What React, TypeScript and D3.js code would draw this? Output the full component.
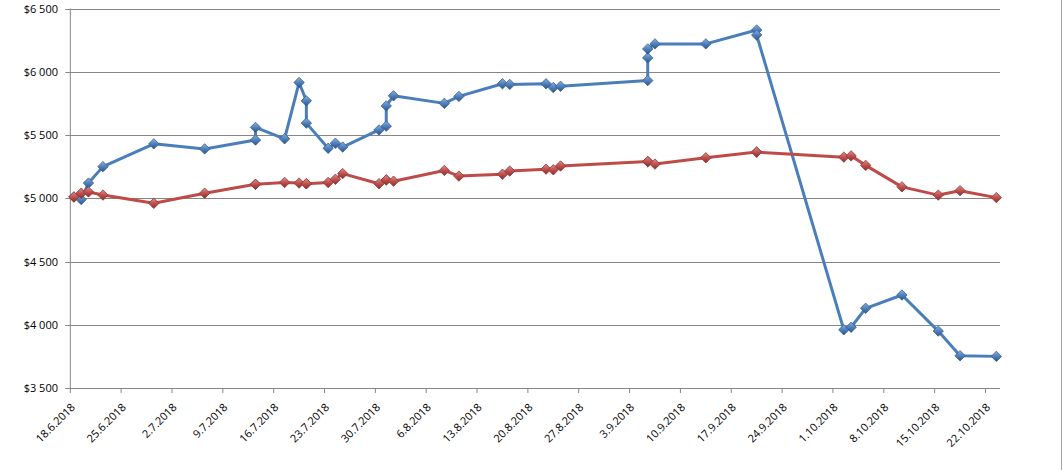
import { useMemo } from 'react'
import * as d3 from 'd3'

// one entry per transaction, both series share the dates
const dates = [
  '18.6.2018', '19.6.2018', '20.6.2018', '22.6.2018', '29.6.2018', '6.7.2018',
  '13.7.2018', '13.7.2018', '17.7.2018', '19.7.2018', '20.7.2018', '20.7.2018',
  '23.7.2018', '24.7.2018', '25.7.2018', '30.7.2018', '31.7.2018', '31.7.2018',
  '1.8.2018', '8.8.2018', '10.8.2018', '16.8.2018', '17.8.2018', '22.8.2018',
  '23.8.2018', '24.8.2018', '5.9.2018', '5.9.2018', '5.9.2018', '6.9.2018',
  '13.9.2018', '20.9.2018', '20.9.2018', '2.10.2018', '3.10.2018', '5.10.2018',
  '10.10.2018', '15.10.2018', '18.10.2018', '23.10.2018',
]

const blueValues = [
  5010, 4990, 5120, 5250, 5430, 5390,
  5460, 5560, 5470, 5915, 5770, 5594,
  5395, 5435, 5405, 5540, 5570, 5730,
  5810, 5750, 5805, 5905, 5900, 5905,
  5875, 5885, 5930, 6110, 6180, 6220,
  6220, 6330, 6290, 3960, 3980, 4130,
  4235, 3950, 3755, 3750,
]

const redValues = [
  5010, 5040, 5050, 5025, 4960, 5040,
  5110, 5110, 5125, 5120, 5115, 5115,
  5125, 5150, 5195, 5115, 5145, 5145,
  5135, 5220, 5175, 5190, 5215, 5230,
  5225, 5255, 5290, 5290, 5290, 5270,
  5320, 5365, 5365, 5325, 5335, 5260,
  5090, 5025, 5060, 5005,
]

const xTickLabels = [
  '18.6.2018', '25.6.2018', '2.7.2018', '9.7.2018', '16.7.2018', '23.7.2018',
  '30.7.2018', '6.8.2018', '13.8.2018', '20.8.2018', '27.8.2018', '3.9.2018',
  '10.9.2018', '17.9.2018', '24.9.2018', '1.10.2018', '8.10.2018', '15.10.2018',
  '22.10.2018',
]

const yTicks = [3500, 4000, 4500, 5000, 5500, 6000, 6500]

const axisStart = '18.6.2018'
const axisEnd = '24.10.2018'

const W = 1063
const H = 470
const plot = { left: 70.3, right: 1000, top: 8.5, bottom: 388 }

const parse = d3.utcParse('%d.%m.%Y')
const DAY = 24 * 3600 * 1000

const fmtMoney = (v: number) => '$' + d3.format(',')(v).replace(',', ' ')

const series = [
  { name: 'blue', values: blueValues, line: '#4A7EBB', light: '#8DB0DF', mid: '#4F81BD', dark: '#2C5485', edge: '#385D8A' },
  { name: 'red', values: redValues, line: '#BE4B48', light: '#DE8F8C', mid: '#C0504D', dark: '#8A2F2C', edge: '#8C3836' },
]

const diamond = 'M0,-5.2L5.2,0L0,5.2L-5.2,0Z'

export default function App() {
  const x = useMemo(
    () => d3.scaleUtc().domain([parse(axisStart)!, parse(axisEnd)!]).range([plot.left, plot.right]),
    []
  )
  const y = useMemo(
    () => d3.scaleLinear().domain([3500, 6500]).range([plot.bottom, plot.top]),
    []
  )

  // points sit in the middle of their day band
  const px = (s: string) => x(new Date(parse(s)!.getTime() + DAY / 2))

  const line = d3.line<number>()
    .x((_, i) => px(dates[i]))
    .y(d => y(d))

  const font = '"Open Sans", "DejaVu Sans", sans-serif'

  return (
    <svg width={W} height={H} style={{ position: 'absolute', left: 0, top: 0, background: '#fff' }}>
      <defs>
        {series.map(s => (
          <linearGradient key={s.name} id={`grad-${s.name}`} x1="0" y1="0" x2="0" y2="1">
            <stop offset="0%" stopColor={s.light} />
            <stop offset="50%" stopColor={s.mid} />
            <stop offset="100%" stopColor={s.dark} />
          </linearGradient>
        ))}
      </defs>

      {/* chart border (only right edge visible) */}
      <line x1={W - 1.5} x2={W - 1.5} y1={0} y2={H} stroke="#a6a6a6" />

      {/* gridlines */}
      {yTicks.map(t => (
        <line key={t} x1={plot.left} x2={plot.right} y1={Math.round(y(t)) + 0.5} y2={Math.round(y(t)) + 0.5}
          stroke="#868686" strokeWidth={1} />
      ))}

      {/* y axis */}
      <line x1={plot.left} x2={plot.left} y1={plot.top} y2={plot.bottom} stroke="#868686" />
      {yTicks.map(t => (
        <g key={t} transform={`translate(0,${Math.round(y(t)) + 0.5})`}>
          <line x1={plot.left - 5} x2={plot.left} stroke="#868686" />
          <text x={58} dy="0.35em" textAnchor="end" fontFamily={font} fontSize={11} fill="#000">
            {fmtMoney(t)}
          </text>
        </g>
      ))}

      {/* x axis */}
      <line x1={plot.left} x2={plot.right} y1={Math.round(plot.bottom) + 0.5} y2={Math.round(plot.bottom) + 0.5} stroke="#868686" />
      {xTickLabels.map(lbl => {
        const tx = x(parse(lbl)!)
        return (
          <g key={lbl}>
            <line x1={tx} x2={tx} y1={plot.bottom} y2={plot.bottom + 5} stroke="#868686" />
            <text transform={`translate(${tx + 5.5},408) rotate(-45)`} textAnchor="end"
              fontFamily={font} fontSize={11} fill="#000">
              {lbl}
            </text>
          </g>
        )
      })}

      {/* series */}
      {series.map(s => (
        <g key={s.name}>
          <path d={line(s.values) ?? ''} fill="none" stroke={s.line} strokeWidth={3} strokeLinejoin="round" />
          {s.values.map((v, i) => (
            <path key={i} d={diamond} transform={`translate(${px(dates[i])},${y(v)})`}
              fill={`url(#grad-${s.name})`} stroke={s.edge} strokeWidth={0.8} />
          ))}
        </g>
      ))}
    </svg>
  )
}
